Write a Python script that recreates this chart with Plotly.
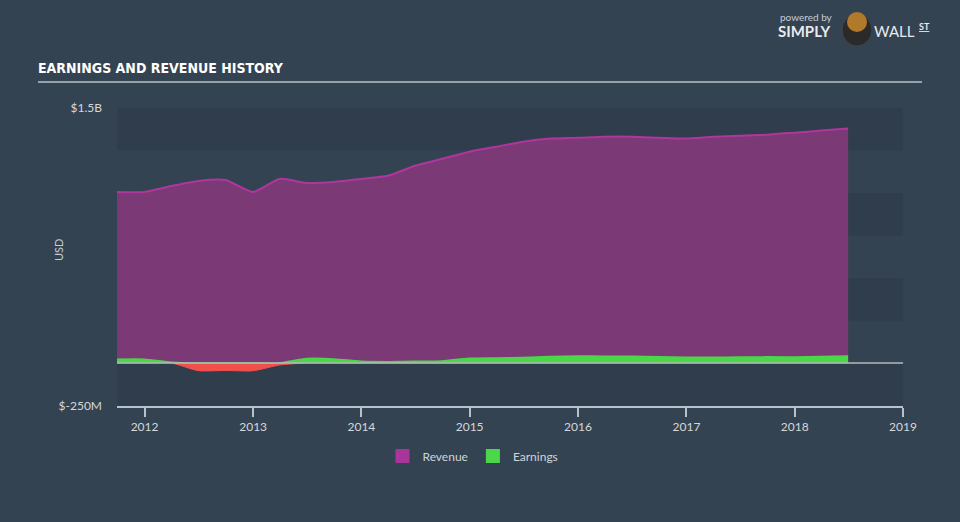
import plotly.graph_objects as go

# ---- data ----
dates = ["2011-09-30", "2011-12-31", "2012-03-31", "2012-06-30", "2012-09-30", "2012-12-31",
         "2013-03-31", "2013-06-30", "2013-09-30", "2013-12-31", "2014-03-31", "2014-06-30",
         "2014-09-30", "2014-12-31", "2015-03-31", "2015-06-30", "2015-09-30", "2015-12-31",
         "2016-03-31", "2016-06-30", "2016-09-30", "2016-12-31", "2017-03-31", "2017-06-30",
         "2017-09-30", "2017-12-31", "2018-03-31", "2018-06-30"]
revenue_b = [1.006, 1.006, 1.041, 1.071, 1.077, 1.006, 1.083, 1.059, 1.065, 1.083, 1.101, 1.160,
             1.201, 1.243, 1.272, 1.302, 1.320, 1.325, 1.331, 1.331, 1.325, 1.320, 1.331, 1.337,
             1.343, 1.355, 1.367, 1.379]
earnings_m = [22, 22, 5, -45, -44, -46, -12, 26, 24, 10, 8, 10, 12, 28, 30, 33, 38, 41, 40, 40,
              37, 34, 34, 35, 36, 35, 38, 41]

y_tick_vals = [1.5e9, -2.5e8]
y_tick_text = ["$1.5B", "$-250M"]
x_tick_vals = ["2012-01-01", "2013-01-01", "2014-01-01", "2015-01-01", "2016-01-01",
               "2017-01-01", "2018-01-01", "2019-01-01"]
x_tick_text = ["2012", "2013", "2014", "2015", "2016", "2017", "2018", "2019"]
band_edges = [-2.5e8, 0, 2.5e8, 5e8, 7.5e8, 1e9, 1.25e9, 1.5e9]

revenue = [v * 1e9 for v in revenue_b]
earnings = [v * 1e6 for v in earnings_m]
earn_pos = [max(v, 0) for v in earnings]
earn_neg = [min(v, 0) for v in earnings]

BG = "#344352"
DARK = "#2f3d4c"
REV_LINE = "#b0369e"
REV_FILL = "#7b3a76"
GREEN = "#4cd64a"
RED = "#f0504b"

fig = go.Figure()

fig.add_trace(go.Scatter(x=dates, y=revenue, name="Revenue", mode="lines", showlegend=False,
                         line=dict(color=REV_LINE, width=2, shape="spline", smoothing=0.6),
                         fill="tozeroy", fillcolor=REV_FILL))
fig.add_trace(go.Scatter(x=dates, y=earn_neg, name="Earnings neg", mode="lines", showlegend=False,
                         line=dict(color=RED, width=1, shape="spline", smoothing=0.6),
                         fill="tozeroy", fillcolor=RED))
fig.add_trace(go.Scatter(x=dates, y=earn_pos, name="Earnings", mode="lines", showlegend=False,
                         line=dict(color=GREEN, width=1.5, shape="spline", smoothing=0.6),
                         fill="tozeroy", fillcolor=GREEN))
# legend entries (square swatches)
fig.add_trace(go.Scatter(x=[None], y=[None], name="Revenue", mode="markers",
                         marker=dict(symbol="square", size=14, color="#a8369a")))
fig.add_trace(go.Scatter(x=[None], y=[None], name="Earnings", mode="markers",
                         marker=dict(symbol="square", size=14, color=GREEN)))

shapes = []
for i in range(len(band_edges) - 1):
    if i % 2 == 0:
        shapes.append(dict(type="rect", xref="paper", yref="y", x0=0, x1=1,
                           y0=band_edges[i], y1=band_edges[i + 1],
                           fillcolor=DARK, line=dict(width=0), layer="below"))
shapes.append(dict(type="line", xref="paper", yref="y", x0=0, x1=1, y0=0, y1=0,
                   line=dict(color="#b4b8bc", width=1.5), layer="above"))
shapes.append(dict(type="line", xref="paper", yref="paper",
                   x0=(38 - 117) / 786, x1=(922 - 117) / 786,
                   y0=(406 - 82) / 298, y1=(406 - 82) / 298,
                   line=dict(color="#b8bec4", width=1.5)))
shapes.append(dict(type="circle", xref="paper", yref="paper",
                   x0=(842 - 117) / 786, x1=(872 - 117) / 786,
                   y0=(406 - 46) / 298, y1=(406 - 14) / 298,
                   fillcolor="#2a2a2a", line=dict(color="#444", width=1)))
shapes.append(dict(type="circle", xref="paper", yref="paper",
                   x0=(847 - 117) / 786, x1=(867 - 117) / 786,
                   y0=(406 - 32) / 298, y1=(406 - 12) / 298,
                   fillcolor="#b07a2a", line=dict(width=0)))

annotations = [
    dict(text="<b>EARNINGS AND REVENUE HISTORY</b>", xref="paper", yref="paper",
         x=(36 - 117) / 786, y=(406 - 68) / 298, xanchor="left", yanchor="middle",
         showarrow=False, font=dict(family="DejaVu Sans Condensed, Liberation Sans Narrow",
                                    size=14, color="#ffffff")),
    dict(text="USD", xref="paper", yref="paper", x=(58 - 117) / 786, y=(406 - 250) / 298,
         xanchor="center", yanchor="middle", textangle=-90, showarrow=False,
         font=dict(family="Lato", size=11, color="#c8ccd0")),
    dict(text="powered by", xref="paper", yref="paper", x=(778 - 117) / 786, y=(406 - 17) / 298,
         xanchor="left", yanchor="middle", showarrow=False,
         font=dict(family="Lato", size=10, color="#c8ccd0")),
    dict(text="<b>SIMPLY</b>", xref="paper", yref="paper", x=(776 - 117) / 786, y=(406 - 31) / 298,
         xanchor="left", yanchor="middle", showarrow=False,
         font=dict(family="Lato", size=15, color="#e8eaec")),
    dict(text="WALL", xref="paper", yref="paper", x=(872 - 117) / 786, y=(406 - 31) / 298,
         xanchor="left", yanchor="middle", showarrow=False,
         font=dict(family="Lato", size=15, color="#e8eaec")),
    dict(text="<b><u>ST</u></b>", xref="paper", yref="paper", x=(917 - 117) / 786, y=(406 - 27) / 298,
         xanchor="left", yanchor="middle", showarrow=False,
         font=dict(family="Lato", size=9, color="#e8eaec")),
]

fig.update_layout(
    width=960, height=522,
    margin=dict(l=117, r=57, t=108, b=116),
    paper_bgcolor=BG, plot_bgcolor=BG,
    font=dict(family="Lato", color="#c8ccd0"),
    shapes=shapes, annotations=annotations,
    showlegend=True,
    legend=dict(orientation="h", x=(473 - 117) / 786, xanchor="center",
                y=(406 - 456) / 298, yanchor="middle",
                font=dict(size=12, color="#d0d4d8"), bgcolor="rgba(0,0,0,0)",
                itemwidth=30, traceorder="normal"),
    xaxis=dict(type="date", range=["2011-09-30", "2019-01-01"],
               tickvals=x_tick_vals, ticktext=x_tick_text,
               showgrid=False, zeroline=False, showline=True, linecolor="#b8c2cc", linewidth=1.5,
               ticks="outside", ticklen=9, tickwidth=1.5, tickcolor="#b8c2cc",
               tickfont=dict(size=12, color="#d4d8dc")),
    yaxis=dict(range=[-2.53e8, 1.5e9], tickvals=y_tick_vals, ticktext=y_tick_text,
               showgrid=False, zeroline=False, showline=False, ticks="",
               ticklabelstandoff=14,
               tickfont=dict(size=12, color="#d4d8dc")),
)

fig.write_html("out.html")
